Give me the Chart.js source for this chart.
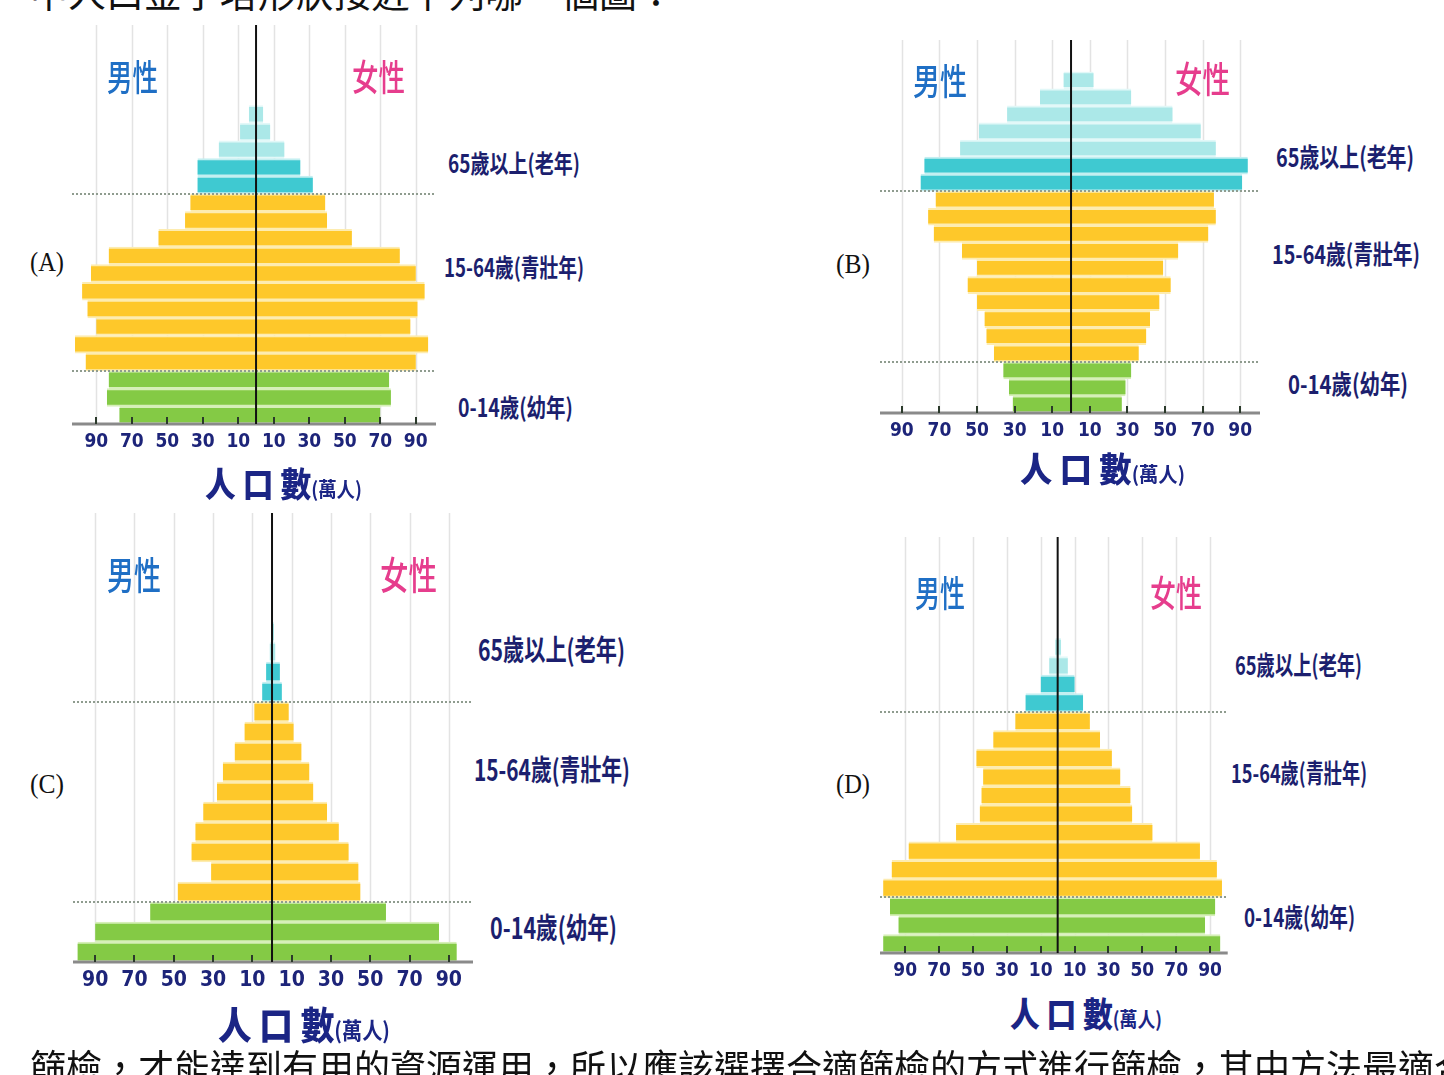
<!DOCTYPE html>
<html>
<head>
<meta charset="utf-8">
<script src="https://cdn.jsdelivr.net/npm/chart.js@4.4.0/dist/chart.umd.min.js"></script>
<style>
html, body { margin: 0; padding: 0; background: #fff; width: 1444px; height: 1075px; overflow: hidden; position: relative; }
canvas { position: absolute; }
.lbl { position: absolute; white-space: nowrap; transform-origin: 0 50%; font-family: 'Noto Sans CJK TC', sans-serif; }
.age { color: #1c1f6e; font-weight: 700; }
.male { color: #1f6fc5; font-weight: 500; }
.female { color: #e63d8d; font-weight: 500; }
.axt { color: #1b2585; font-weight: 900; }
.axt .sm { font-size: 0.6em; font-weight: 700; }
.tag { font-family: 'Liberation Serif', 'DejaVu Serif', serif; color: #111; }
.txt { color: #111; font-weight: 400; }
</style>
</head>
<body>
<canvas id="pyrA" width="364" height="440" style="left:72px;top:20px;width:364px;height:440px"></canvas>
<canvas id="pyrB" width="380" height="410" style="left:880px;top:35px;width:380px;height:410px"></canvas>
<canvas id="pyrC" width="400" height="490" style="left:73px;top:508px;width:400px;height:490px"></canvas>
<canvas id="pyrD" width="349" height="456" style="left:880px;top:532px;width:349px;height:456px"></canvas>
<script>
// tick values on the population axis (萬人), men on the left
const tickVals = [-90, -70, -50, -30, -10, 10, 30, 50, 70, 90];

// (A) oldest group at the top
const agesA = ['85+', '80-84', '75-79', '70-74', '65-69', '60-64', '55-59', '50-54', '45-49', '40-44',
  '35-39', '30-34', '25-29', '20-24', '15-19', '10-14', '5-9', '0-4'];
const maleA = [4, 9, 21, 33, 33, 37, 40, 55, 83, 93, 98, 95, 90, 102, 96, 83, 84, 77];
const femaleA = [4, 8, 16, 25, 32, 39, 40, 54, 81, 90, 95, 91, 87, 97, 90, 75, 76, 70];

// (B)
const agesB = ['95+', '90-94', '85-89', '80-84', '75-79', '70-74', '65-69', '60-64', '55-59', '50-54',
  '45-49', '40-44', '35-39', '30-34', '25-29', '20-24', '15-19', '10-14', '5-9', '0-4'];
const maleB = [4, 16.5, 34, 49, 59, 78, 80, 72, 76, 73, 58, 50, 55, 50, 46, 45, 41, 36, 33, 31];
const femaleB = [12, 32, 54, 69, 77, 94, 91, 76, 77, 73, 57, 49, 53, 47, 42, 40, 36, 32, 29, 27];

// (C)
const agesC = ['85+', '80-84', '75-79', '70-74', '65-69', '60-64', '55-59', '50-54', '45-49', '40-44',
  '35-39', '30-34', '25-29', '20-24', '15-19', '10-14', '5-9', '0-4'];
const maleC = [0.2, 0.5, 1.2, 3, 5, 9, 14, 19, 25, 28, 35, 39, 41, 31, 48, 62, 90, 99];
const femaleC = [0.3, 1, 1.7, 4, 5, 8.5, 11, 15, 19, 21, 28, 34, 39, 44, 45, 58, 85, 94];

// (D)
const agesD = ['80+', '75-79', '70-74', '65-69', '60-64', '55-59', '50-54', '45-49', '40-44',
  '35-39', '30-34', '25-29', '20-24', '15-19', '10-14', '5-9', '0-4'];
const maleD = [1.4, 5, 10, 19, 25, 38, 48, 44, 45, 46, 60, 88, 98, 103, 99, 94, 103];
const femaleD = [2, 6, 10, 15, 19, 25, 32, 37, 43, 44, 56, 84, 94, 97, 93, 87, 96];

function barColors(n, nOld) {
  const fill = [], edge = [];
  for (let i = 0; i < n; i++) {
    if (i < nOld - 2) { fill.push('#abe8e8'); edge.push('#e2f8f8'); }
    else if (i < nOld) { fill.push('#3fc9d1'); edge.push('#c4eff1'); }
    else if (i < nOld + 10) { fill.push('#fec82a'); edge.push('#fdecb0'); }
    else { fill.push('#84ca45'); edge.push('#d6efb8'); }
  }
  return { fill, edge };
}

const pyramidDecor = {
  id: 'pyramidDecor',
  beforeDatasetsDraw(chart, args, opts) {
    const { ctx, chartArea, scales: { x } } = chart;
    ctx.save();
    ctx.strokeStyle = '#e3e3e3';
    ctx.lineWidth = 1.5;
    tickVals.forEach(v => {
      const px = Math.round(x.getPixelForValue(v)) + 0.5;
      ctx.beginPath();
      ctx.moveTo(px, opts.lineTop);
      ctx.lineTo(px, chartArea.bottom);
      ctx.stroke();
    });
    ctx.restore();
  },
  afterDatasetsDraw(chart, args, opts) {
    const { ctx, chartArea, scales: { x, y } } = chart;
    ctx.save();
    // dotted lines between age groups
    ctx.strokeStyle = '#8f9c8f';
    ctx.lineWidth = 2;
    ctx.setLineDash([2, 2]);
    opts.breaks.forEach(i => {
      const py = Math.round((y.getPixelForValue(i - 1) + y.getPixelForValue(i)) / 2);
      ctx.beginPath();
      ctx.moveTo(chartArea.left, py);
      ctx.lineTo(chartArea.right, py);
      ctx.stroke();
    });
    ctx.setLineDash([]);
    // axis line
    ctx.strokeStyle = '#8a8a8a';
    ctx.lineWidth = 3;
    ctx.beginPath();
    ctx.moveTo(chartArea.left, chartArea.bottom);
    ctx.lineTo(chartArea.right, chartArea.bottom);
    ctx.stroke();
    // tick marks
    ctx.strokeStyle = '#2b3a2b';
    ctx.lineWidth = 2;
    tickVals.forEach(v => {
      const px = Math.round(x.getPixelForValue(v));
      ctx.beginPath();
      ctx.moveTo(px, chartArea.bottom - 7);
      ctx.lineTo(px, chartArea.bottom);
      ctx.stroke();
    });
    // centre line
    const cx = x.getPixelForValue(0);
    ctx.strokeStyle = '#111';
    ctx.lineWidth = 2;
    ctx.beginPath();
    ctx.moveTo(cx, opts.lineTop);
    ctx.lineTo(cx, chartArea.bottom);
    ctx.stroke();
    ctx.restore();
  }
};

function makePyramid(id, ages, male, female, nOld, xMin, xMax, padTop, axisH, tickSize, tickPad) {
  const c = barColors(ages.length, nOld);
  const style = {
    backgroundColor: c.fill,
    borderColor: c.edge,
    borderWidth: { top: 2, bottom: 2, left: 0, right: 0 },
    borderSkipped: false,
    barPercentage: 1,
    categoryPercentage: 1
  };
  return new Chart(document.getElementById(id), {
    type: 'bar',
    data: {
      labels: ages,
      datasets: [
        Object.assign({ label: '男性', data: male.map(v => -v) }, style),
        Object.assign({ label: '女性', data: female }, style)
      ]
    },
    options: {
      indexAxis: 'y',
      responsive: false,
      animation: false,
      layout: { padding: { top: padTop, left: 0, right: 0, bottom: 0 } },
      plugins: {
        legend: { display: false },
        tooltip: { enabled: false },
        pyramidDecor: { lineTop: 5, breaks: [nOld, nOld + 10] }
      },
      scales: {
        x: {
          stacked: true,
          min: xMin,
          max: xMax,
          grid: { display: false, drawTicks: false },
          border: { display: false },
          afterBuildTicks: s => { s.ticks = tickVals.map(v => ({ value: v })); },
          afterFit: s => { s.height = axisH; },
          ticks: {
            autoSkip: false,
            maxRotation: 0,
            padding: tickPad,
            color: '#1d2479',
            font: { family: "'Liberation Sans Narrow', 'DejaVu Sans Condensed', 'Liberation Sans', sans-serif", size: tickSize, weight: 'bold' },
            callback: v => Math.abs(v)
          }
        },
        y: { stacked: true, display: false }
      }
    },
    plugins: [pyramidDecor]
  });
}

makePyramid('pyrA', agesA, maleA, femaleA, 5, -103.7, 101.4, 85.4, 36, 19, 7);
makePyramid('pyrB', agesB, maleB, femaleB, 7, -101.6, 100.5, 36.7, 32, 19, 7);
makePyramid('pyrC', agesC, maleC, femaleC, 5, -101.3, 102.3, 94, 36, 21, 6);
makePyramid('pyrD', agesD, maleD, femaleD, 4, -104.9, 100.4, 106, 35, 19, 7);

// text placed on the page, each squeezed to the width it has in the picture
function addText(html, cls, x, cy, w, fs) {
  const el = document.createElement('div');
  el.className = 'lbl ' + cls;
  el.innerHTML = html;
  el.style.fontSize = fs + 'px';
  el.style.lineHeight = Math.round(fs * 1.2) + 'px';
  el.style.left = x + 'px';
  el.style.top = (cy - fs * 0.6) + 'px';
  document.body.appendChild(el);
  if (w) {
    const w0 = el.getBoundingClientRect().width;
    el.style.transform = 'scaleX(' + (w / w0) + ')';
  }
}

const axisTitle = '人 口 數<span class="sm">(萬人)</span>';

addText('男性', 'male', 107, 76, 51, 36);
addText('女性', 'female', 352, 76, 53, 36);
addText('65歲以上(老年)', 'age', 448, 162, 132, 25);
addText('15-64歲(青壯年)', 'age', 444, 266, 140, 25);
addText('0-14歲(幼年)', 'age', 458, 406, 115, 25);
addText(axisTitle, 'axt', 205, 482, 157, 34);
addText('(A)', 'tag', 30, 262, 34, 28);

addText('男性', 'male', 913, 80, 54, 36);
addText('女性', 'female', 1175, 78, 55, 36);
addText('65歲以上(老年)', 'age', 1276, 156, 138, 26);
addText('15-64歲(青壯年)', 'age', 1272, 253, 148, 26);
addText('0-14歲(幼年)', 'age', 1288, 383, 120, 26);
addText(axisTitle, 'axt', 1020, 467, 165, 34);
addText('(B)', 'tag', 836, 264, 34, 28);

addText('男性', 'male', 107, 573, 54, 38);
addText('女性', 'female', 380, 573, 57, 38);
addText('65歲以上(老年)', 'age', 478, 648, 147, 29);
addText('15-64歲(青壯年)', 'age', 474, 768, 156, 29);
addText('0-14歲(幼年)', 'age', 490, 926, 127, 29);
addText(axisTitle, 'axt', 218, 1023, 172, 38);
addText('(C)', 'tag', 30, 784, 34, 28);

addText('男性', 'male', 915, 592, 50, 36);
addText('女性', 'female', 1150, 592, 52, 36);
addText('65歲以上(老年)', 'age', 1235, 664, 127, 26);
addText('15-64歲(青壯年)', 'age', 1231, 772, 136, 26);
addText('0-14歲(幼年)', 'age', 1244, 916, 111, 26);
addText(axisTitle, 'axt', 1010, 1012, 152, 34);
addText('(D)', 'tag', 836, 784, 34, 28);

// question text cut by the picture edges
addText('中人口金字塔形狀接近下列哪一個圖：', 'txt', 30, -9, 645, 38);
addText('篩檢，才能達到有用的資源運用，所以應該選擇合適篩檢的方式進行篩檢，其中方法最適合', 'txt', 30, 1066, 1440, 38);
</script>
</body>
</html>
